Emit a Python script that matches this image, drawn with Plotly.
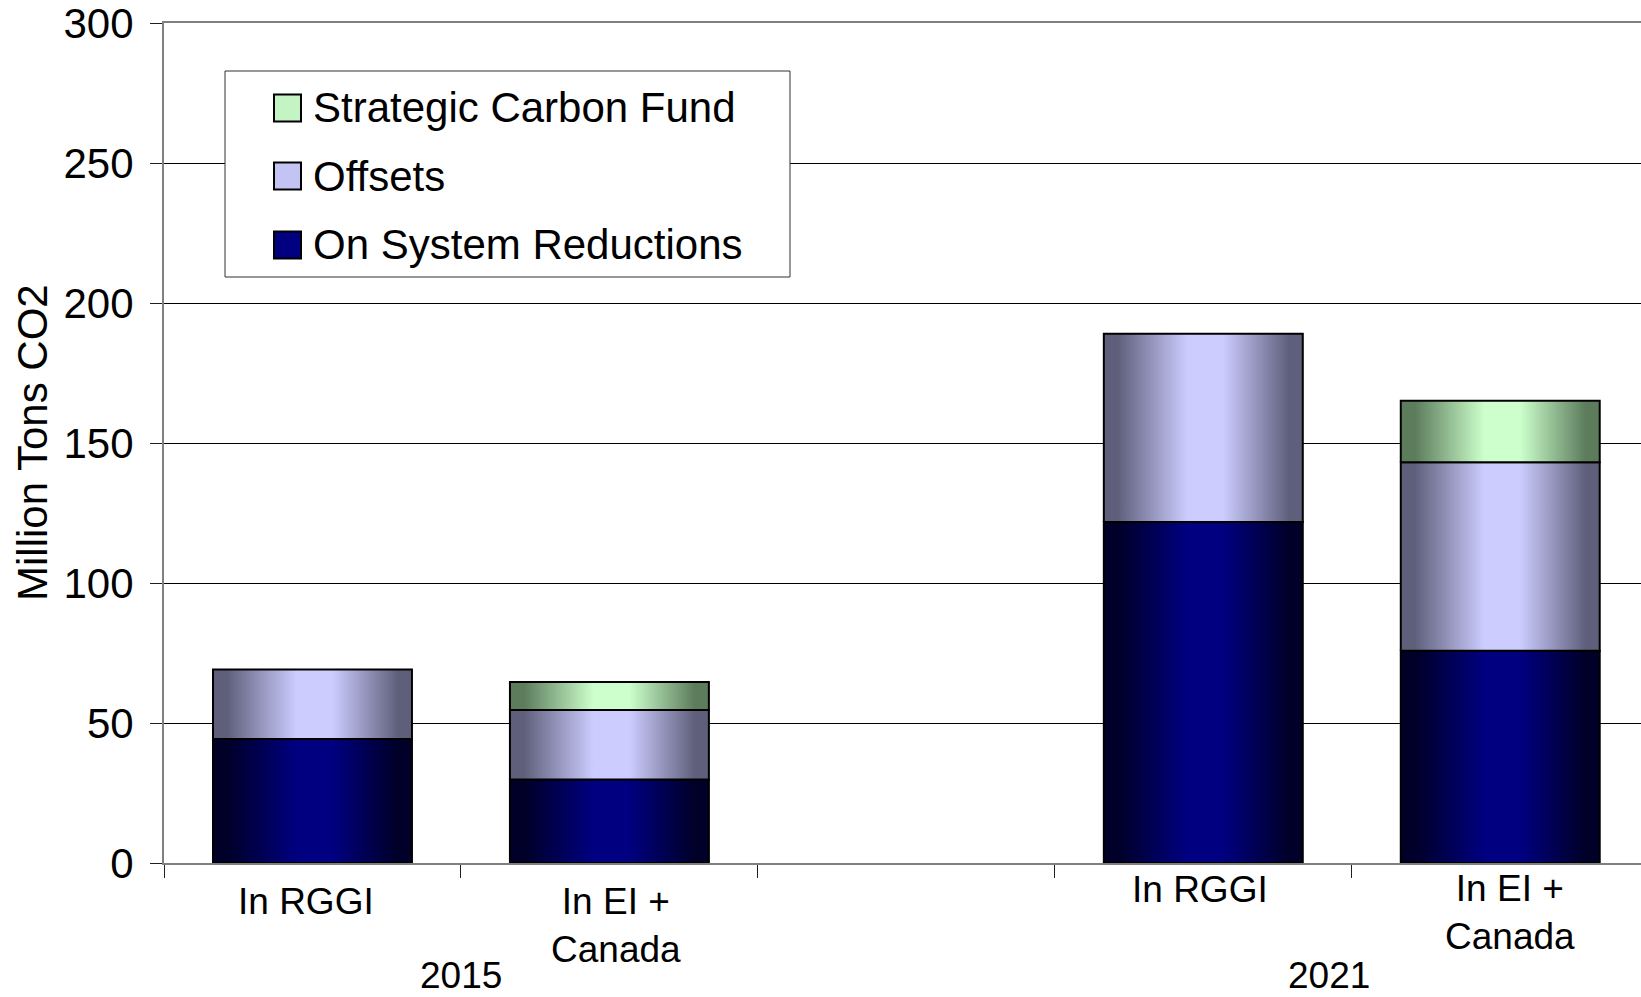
import plotly.graph_objects as go

# ---------------- data ----------------
categories = ["In RGGI", "In EI +<br>Canada", "", "In RGGI", "In EI +<br>Canada"]
years = ["2015", "2021"]
year_groups = [[0, 1], [3, 4]]

on_system = [44.3, 29.8, None, 121.8, 75.8]
offsets = [24.8, 24.8, None, 67.2, 67.3]
carbon_fund = [None, 10.0, None, None, 22.0]

series_names = ["On System Reductions", "Offsets", "Strategic Carbon Fund"]
y_ticks = [0, 50, 100, 150, 200, 250, 300]

# ---------------- style ----------------
FONT = "Liberation Sans, Arial, sans-serif"
W, H = 1641, 997
ML, MT, MB = 164, 23, 134
PLOT_W = W - ML
PLOT_H = H - MT - MB
BAR_W = 0.67
X_MAX = 4.474

styles = {
    "On System Reductions": dict(edge="#000028", mid="#000080", swatch="#000080"),
    "Offsets": dict(edge="#5f5f7c", mid="#ccccff", swatch="#c4c4f4"),
    "Strategic Carbon Fund": dict(edge="#5c7c5c", mid="#ccffcc", swatch="#c4f4c4"),
}

series_values = [on_system, offsets, carbon_fund]
x_pos = list(range(len(categories)))

fig = go.Figure()

# stacked bars (base layer)
for name, vals in zip(series_names, series_values):
    fig.add_trace(go.Bar(
        x=x_pos, y=vals, name=name, width=BAR_W,
        marker=dict(color=styles[name]["mid"], line=dict(width=0)),
        showlegend=False, hoverinfo="y+name",
    ))

# gradient shading on each stacked segment (derived from the same data)
base = [0.0] * len(categories)
for name, vals in zip(series_names, series_values):
    st = styles[name]
    for i, v in enumerate(vals):
        if v is None or v == 0:
            continue
        b = base[i]
        x0, x1 = x_pos[i] - BAR_W / 2, x_pos[i] + BAR_W / 2
        fig.add_trace(go.Scatter(
            x=[x0, x1, x1, x0, x0], y=[b, b, b + v, b + v, b],
            mode="lines", fill="toself",
            fillgradient=dict(type="horizontal", colorscale=[
                [0, st["edge"]], [0.07, st["edge"]], [0.42, st["mid"]],
                [0.6, st["mid"]], [0.93, st["edge"]], [1, st["edge"]]]),
            line=dict(color="black", width=2),
            showlegend=False, hoverinfo="skip",
        ))
        base[i] = b + v

# ---------------- axes ----------------
boundaries = [i - 0.5 for i in range(len(categories))]
fig.update_xaxes(
    range=[-0.5, X_MAX], tickmode="array", tickvals=boundaries,
    ticktext=[""] * len(boundaries), ticks="outside", ticklen=13,
    tickcolor="#202020", tickwidth=1, showgrid=False, zeroline=False,
    showline=True, linecolor="#808080", linewidth=2, mirror=True,
)
fig.update_yaxes(
    range=[0, 300], tickmode="array", tickvals=y_ticks,
    ticks="outside", ticklen=12, tickcolor="#202020", tickwidth=1,
    tickfont=dict(family=FONT, size=42, color="black"),
    ticklabelstandoff=8, ticklabeloverflow="allow",
    showgrid=True, gridcolor="black", gridwidth=1, zeroline=False,
    showline=True, linecolor="#808080", linewidth=2,
)

annotations = []
# category labels
cat_xshift = [-6, 7, 0, -3, 10]
for g, grp in enumerate(year_groups):
    single_shift = -38.5 if g == 0 else -26.5
    double_shift = -62 if g == 0 else -49
    year_shift = -112 if g == 0 else -112
    for i in grp:
        two = "<br>" in categories[i]
        annotations.append(dict(
            x=x_pos[i], xref="x", y=0, yref="paper", text=categories[i],
            showarrow=False, xanchor="center", yanchor="middle",
            xshift=cat_xshift[i], yshift=double_shift if two else single_shift,
            font=dict(family=FONT, size=37, color="black"),
        ))
    gx = sum(x_pos[i] for i in grp) / len(grp)
    annotations.append(dict(
        x=gx, xref="x", y=0, yref="paper", text=years[g], showarrow=False,
        xanchor="center", yanchor="middle", xshift=0 if g == 0 else -23,
        yshift=year_shift, font=dict(family=FONT, size=37, color="black"),
    ))

# y axis title
annotations.append(dict(
    x=0, xref="paper", y=0.5, yref="paper", text="Million Tons CO2",
    textangle=-90, showarrow=False, xanchor="center", yanchor="middle",
    xshift=-132, font=dict(family=FONT, size=42, color="black"),
))


def px_x(px):
    return (px - ML) / PLOT_W


def px_y(py):
    return (H - MB - py) / PLOT_H


shapes = []
# legend box
shapes.append(dict(type="rect", xref="paper", yref="paper",
                   x0=px_x(225), x1=px_x(790), y0=px_y(277), y1=px_y(71),
                   line=dict(color="#303030", width=1), fillcolor="white",
                   layer="above"))
legend_order = ["Strategic Carbon Fund", "Offsets", "On System Reductions"]
legend_y = [108, 176, 245]
for name, cy in zip(legend_order, legend_y):
    shapes.append(dict(type="rect", xref="paper", yref="paper",
                       x0=px_x(274), x1=px_x(301), y0=px_y(cy + 13.5), y1=px_y(cy - 13.5),
                       line=dict(color="black", width=2),
                       fillcolor=styles[name]["swatch"], layer="above"))
    annotations.append(dict(
        x=px_x(311), xref="paper", y=px_y(cy), yref="paper", text=name,
        showarrow=False, xanchor="left", yanchor="middle",
        font=dict(family=FONT, size=42, color="black"),
    ))

fig.update_layout(
    width=W, height=H, barmode="stack", bargap=0.33,
    margin=dict(l=ML, r=0, t=MT, b=MB, pad=0),
    paper_bgcolor="white", plot_bgcolor="white",
    font=dict(family=FONT, color="black"),
    annotations=annotations, shapes=shapes, showlegend=False,
)

fig.write_html("out.html", config={"displayModeBar": False},
               post_script="document.body.style.margin='0';")
